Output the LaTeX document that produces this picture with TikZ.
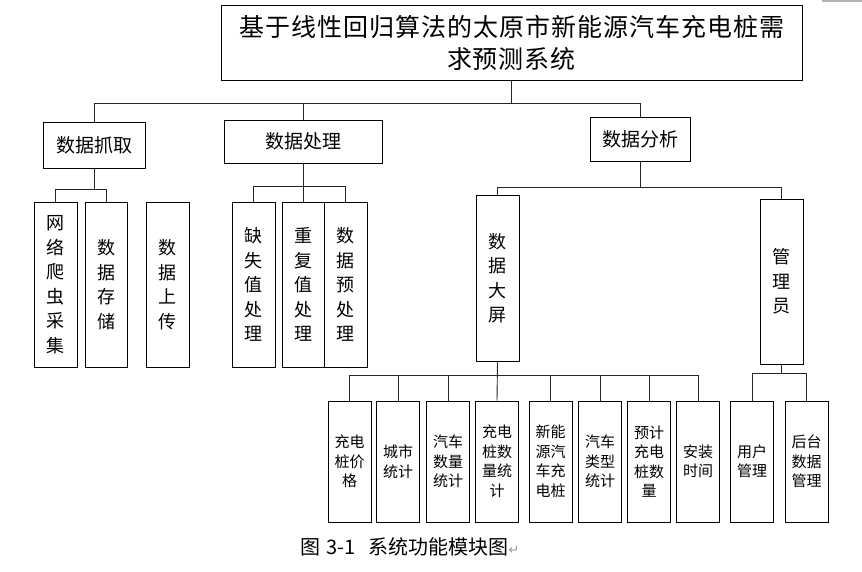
\documentclass[tikz,border=0pt]{standalone}
\usepackage{fontspec}
\setmainfont{Noto Sans CJK SC}
\newfontfamily\markfont{DejaVu Sans}
\usepackage{tikz}
\usetikzlibrary{positioning}
\tikzset{
    % boxes of the module tree, sizes taken in px of the figure
    topbox/.style = {rectangle, draw, line width=0.9pt, minimum width=581pt, minimum height=75pt, inner sep=0pt, align=center, font=\fontsize{25}{32}\selectfont\addfontfeatures{LetterSpace=4}},
    modbox/.style = {rectangle, draw, line width=0.9pt, inner sep=0pt, align=center, font=\fontsize{19}{24}\selectfont},
    tallbox/.style = {rectangle, draw, line width=0.9pt, minimum width=43pt, minimum height=165pt, inner sep=0pt, align=center, font=\fontsize{18}{24.5}\selectfont},
    leafbox/.style = {rectangle, draw, line width=0.9pt, minimum width=43pt, minimum height=121pt, inner sep=0pt, align=center, font=\fontsize{15}{19.5}\selectfont},
    link/.style = {draw=black!85, line width=0.9pt}
}
\begin{document}
\begin{tikzpicture}[x=1pt, y=-1pt]
\useasboundingbox (0,0) rectangle (862,571);
\fill[black!30] (822,0) rectangle (862,2);

\node[topbox] (title) at (511.5,42.5) {基于线性回归算法的太原市新能源汽车充电桩需\\求预测系统};

% second level
\node[modbox, minimum width=102pt, minimum height=46pt] (grab) at (94,145) {数据抓取};
\node[modbox, minimum width=158pt, minimum height=43pt] (proc) at (303,141.5) {数据处理};
\node[modbox, minimum width=100pt, minimum height=44pt] (anal) at (640,139) {数据分析};

% third level
\node[tallbox] (crawl) at (55.5,284.5) {网\\络\\爬\\虫\\采\\集};
\node[tallbox, minimum width=42pt] (store) at (106,284.5) {数\\据\\存\\储};
\node[tallbox] (upload) at (167.5,284.5) {数\\据\\上\\传};
\node[tallbox] (miss) at (253.5,284.5) {缺\\失\\值\\处\\理};
\node[tallbox, minimum width=42pt] (dup) at (303,284.5) {重\\复\\值\\处\\理};
\node[tallbox] (pre) at (345.5,284.5) {数\\据\\预\\处\\理};
\node[tallbox, minimum height=166pt] (screen) at (497.5,278) {数\\据\\大\\屏};
\node[tallbox] (admin) at (781.5,281.5) {管\\理\\员};

% leaves
\node[leafbox] (price) at (349.5,461.5) {充电\\桩价\\格};
\node[leafbox] (city) at (398,461.5) {城市\\统计};
\node[leafbox] (carnum) at (448,461.5) {汽车\\数量\\统计};
\node[leafbox] (pilenum) at (497,461.5) {充电\\桩数\\量统\\计};
\node[leafbox] (nevpile) at (550.5,461.5) {新能\\源汽\\车充\\电桩};
\node[leafbox] (cartype) at (600,461.5) {汽车\\类型\\统计};
\node[leafbox] (predict) at (649,461.5) {预计\\充电\\桩数\\量};
\node[leafbox] (install) at (698,461.5) {安装\\时间};
\node[leafbox] (user) at (752,461.5) {用户\\管理};
\node[leafbox] (backend) at (806.5,461.5) {后台\\数据\\管理};

\node[anchor=west, font=\fontsize{20}{24}\selectfont] (caption) at (297,547) {图\hspace{6pt}3-1\hspace{13pt}系统功能模块图{\markfont\fontsize{13}{16}\selectfont\color{black!40}↵}};

\draw[link] (title.south) -- ++(0,23) -| (grab.north);
\draw[link] (title.south) -- ++(0,23) -| (proc.north);
\draw[link] (title.south) -- ++(0,23) -| (anal.north);
\draw[link] (grab.south) -- ++(0,21) -| (crawl.north);
\draw[link] (grab.south) -- ++(0,21) -| (store.north);
\draw[link] (proc.south) -- ++(0,23) -| (miss.north);
\draw[link] (proc.south) -- (dup.north);
\draw[link] (proc.south) -- ++(0,23) -| (pre.north);
\draw[link] (anal.south) -- ++(0,26) -| (screen.north);
\draw[link] (anal.south) -- ++(0,26) -| (admin.north);
\draw[link] (screen.south) -- ++(0,14) -| (price.north);
\draw[link] (screen.south) -- ++(0,14) -| (city.north);
\draw[link] (screen.south) -- ++(0,14) -| (carnum.north);
\draw[link] (screen.south) -- (pilenum.north);
\draw[link] (screen.south) -- ++(0,14) -| (nevpile.north);
\draw[link] (screen.south) -- ++(0,14) -| (cartype.north);
\draw[link] (screen.south) -- ++(0,14) -| (predict.north);
\draw[link] (screen.south) -- ++(0,14) -| (install.north);
\draw[link] (admin.south) -- ++(0,9) -| (user.north);
\draw[link] (admin.south) -- ++(0,9) -| (backend.north);

\end{tikzpicture}
\end{document}
